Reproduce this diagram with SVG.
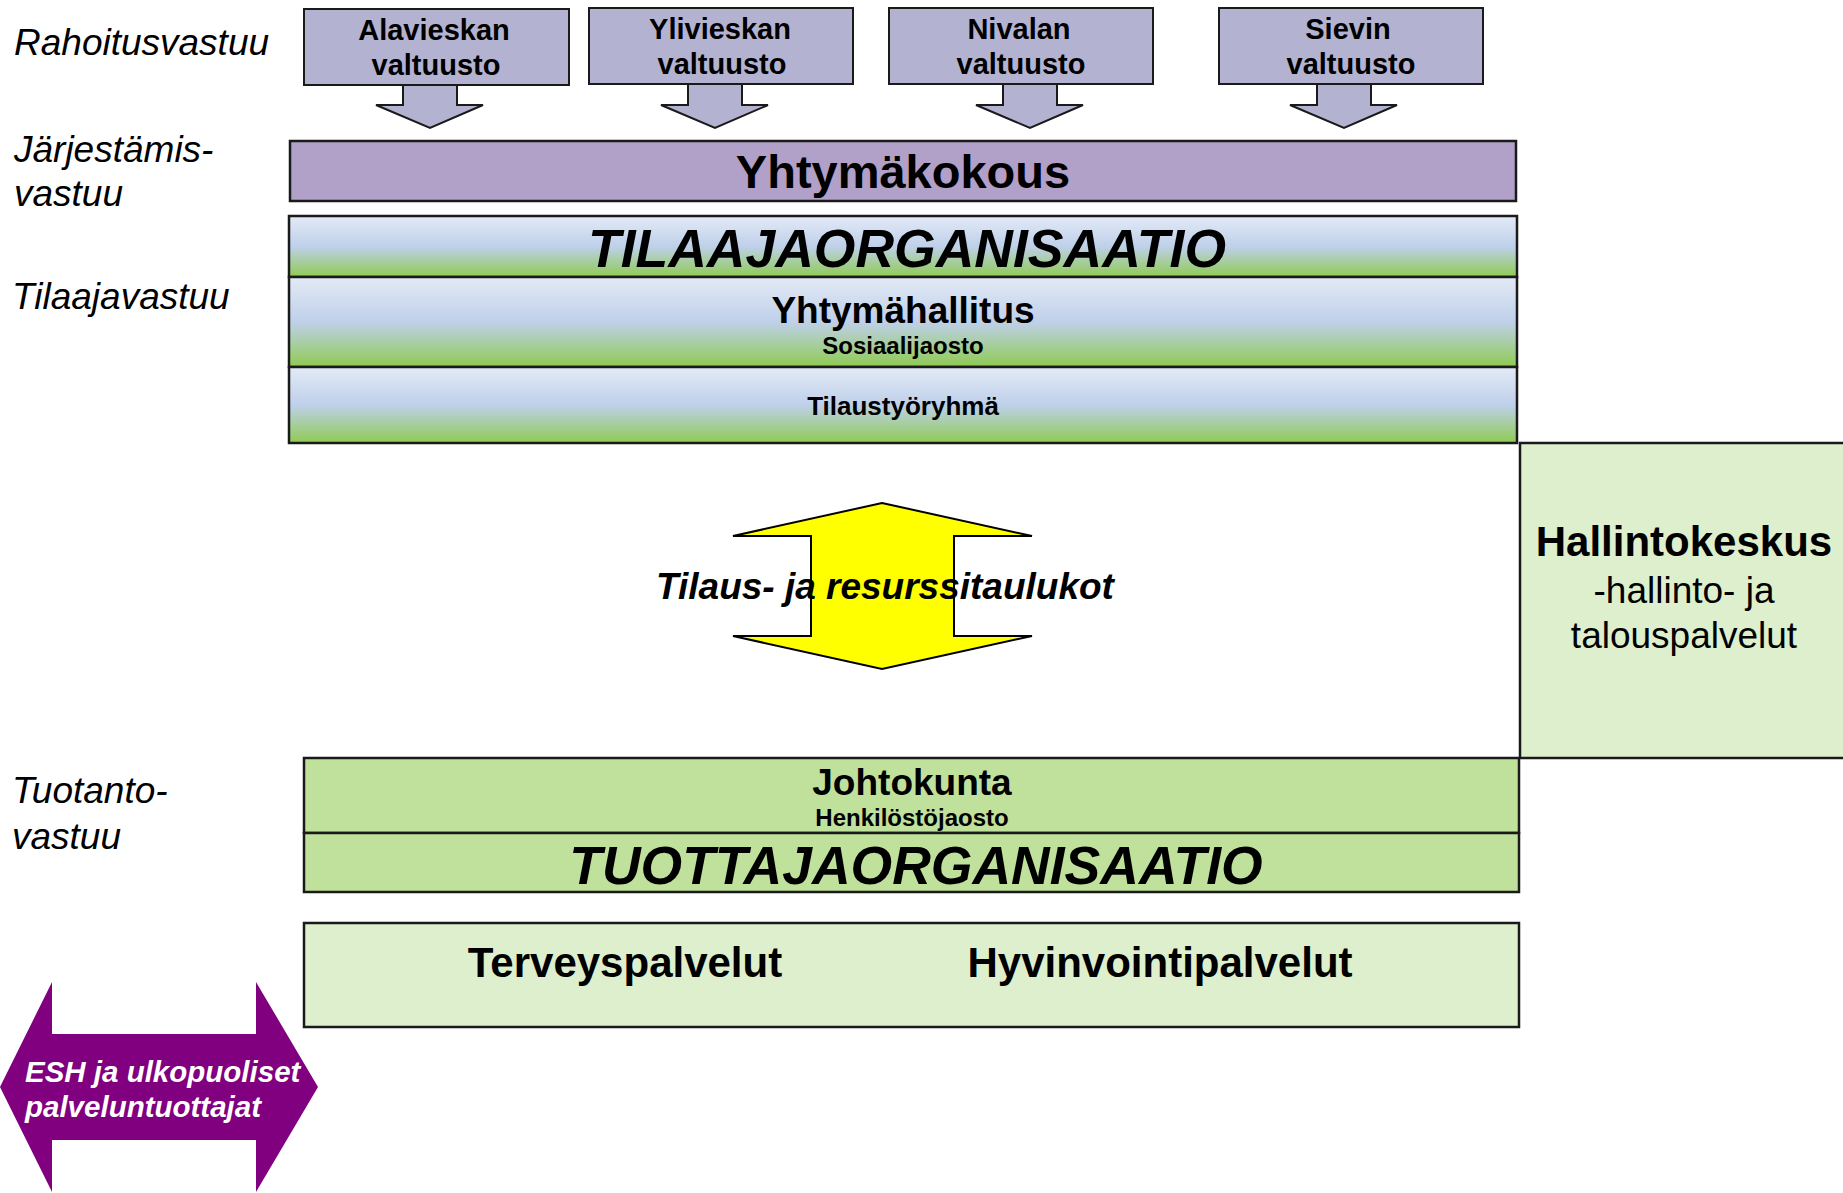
<svg xmlns="http://www.w3.org/2000/svg" width="1843" height="1193" viewBox="0 0 1843 1193">
<defs>
<linearGradient id="gBlueGreen" x1="0" y1="0" x2="0" y2="1">
<stop offset="0" stop-color="#E3EAF6"/>
<stop offset="0.5" stop-color="#BFD0EA"/>
<stop offset="1" stop-color="#8FCB52"/>
</linearGradient>
<style>
.lbl{font-family:"Liberation Sans",Arial,sans-serif;font-style:italic;font-size:37px;fill:#000}
.t{font-family:"Liberation Sans",Arial,sans-serif;font-weight:bold;fill:#000;text-anchor:middle}
.r{font-family:"Liberation Sans",Arial,sans-serif;fill:#000;text-anchor:middle}
.bi{font-style:italic}
.council{fill:#B3B3D1;stroke:#1a1a1a;stroke-width:2}
.bar{stroke:#1a1a1a;stroke-width:2.5}
</style>
</defs>
<rect width="1843" height="1193" fill="#fff"/>

<g id="labels">
<text class="lbl" x="14" y="55">Rahoitusvastuu</text>
<text class="lbl" x="14" y="162">Järjestämis-</text>
<text class="lbl" x="14" y="206">vastuu</text>
<text class="lbl" x="12" y="309">Tilaajavastuu</text>
<text class="lbl" x="12" y="803">Tuotanto-</text>
<text class="lbl" x="12" y="849">vastuu</text>
</g>

<g id="connectors">
<polygon class="council" points="403,85 457,85 457,105 483,105 430,128 376,105 403,105"/>
<polygon class="council" points="688,84 742,84 742,105 768,105 715,128 661,105 688,105"/>
<polygon class="council" points="1003,84 1057,84 1057,105 1083,105 1030,128 976,105 1003,105"/>
<polygon class="council" points="1317,84 1371,84 1371,105 1397,105 1344,128 1290,105 1317,105"/>
</g>

<g id="alavieska">
<rect class="council" x="304" y="9" width="265" height="76"/>
<text class="t" x="434" y="40" font-size="29">Alavieskan</text>
<text class="t" x="436" y="75" font-size="29">valtuusto</text>
</g>
<g id="ylivieska">
<rect class="council" x="589" y="8" width="264" height="76"/>
<text class="t" x="720" y="39" font-size="29">Ylivieskan</text>
<text class="t" x="722" y="74" font-size="29">valtuusto</text>
</g>
<g id="nivala">
<rect class="council" x="889" y="8" width="264" height="76"/>
<text class="t" x="1019" y="39" font-size="29">Nivalan</text>
<text class="t" x="1021" y="74" font-size="29">valtuusto</text>
</g>
<g id="sievi">
<rect class="council" x="1219" y="8" width="264" height="76"/>
<text class="t" x="1348" y="39" font-size="29">Sievin</text>
<text class="t" x="1351" y="74" font-size="29">valtuusto</text>
</g>

<g id="yhtymakokous">
<rect class="bar" x="290" y="141" width="1226" height="60" fill="#B1A0C7"/>
<text class="t" x="903" y="188" font-size="47">Yhtymäkokous</text>
</g>

<g id="tilaajaorganisaatio">
<rect class="bar" x="289" y="216" width="1228" height="61" fill="url(#gBlueGreen)"/>
<text class="t bi" x="907" y="267" font-size="53.5">TILAAJAORGANISAATIO</text>
</g>

<g id="yhtymahallitus">
<rect class="bar" x="289" y="277" width="1228" height="90" fill="url(#gBlueGreen)"/>
<text class="t" x="903" y="323" font-size="37">Yhtymähallitus</text>
<text class="t" x="903" y="354" font-size="24">Sosiaalijaosto</text>
</g>

<g id="tilaustyoryhma">
<rect class="bar" x="289" y="367" width="1228" height="76" fill="url(#gBlueGreen)"/>
<text class="t" x="903" y="415" font-size="26">Tilaustyöryhmä</text>
</g>

<g id="hallintokeskus">
<rect class="bar" x="1520" y="443" width="330" height="315" fill="#DDEFCC"/>
<text class="t" x="1684" y="556" font-size="42">Hallintokeskus</text>
<text class="r" x="1684" y="603" font-size="37">-hallinto- ja</text>
<text class="r" x="1684" y="648" font-size="37">talouspalvelut</text>
</g>

<g id="tilaustaulukot">
<polygon points="882,503 1032,536 954,536 954,636 1032,636 882,669 733,636 811,636 811,536 733,536" fill="#FFFF00" stroke="#000" stroke-width="2"/>
<text class="t bi" x="885" y="599" font-size="37">Tilaus- ja resurssitaulukot</text>
</g>

<g id="johtokunta">
<rect class="bar" x="304" y="758" width="1215" height="75" fill="#C0E19B"/>
<text class="t" x="912" y="795" font-size="37">Johtokunta</text>
<text class="t" x="912" y="826" font-size="24">Henkilöstöjaosto</text>
</g>

<g id="tuottajaorganisaatio">
<rect class="bar" x="304" y="833" width="1215" height="59" fill="#C0E19B"/>
<text class="t bi" x="916" y="884" font-size="53.5">TUOTTAJAORGANISAATIO</text>
</g>

<g id="palvelut">
<rect class="bar" x="304" y="923" width="1215" height="104" fill="#DDEFCC"/>
<text class="t" x="625" y="977" font-size="42">Terveyspalvelut</text>
<text class="t" x="1160" y="977" font-size="42">Hyvinvointipalvelut</text>
</g>

<g id="esh">
<polygon points="0,1087 52,982 52,1034 256,1034 256,982 318,1087 256,1192 256,1140 52,1140 52,1192" fill="#800080"/>
<text class="t bi" x="25" y="1082" font-size="29.5" style="fill:#fff;text-anchor:start">ESH ja ulkopuoliset</text>
<text class="t bi" x="25" y="1117" font-size="29.5" style="fill:#fff;text-anchor:start">palveluntuottajat</text>
</g>
</svg>
